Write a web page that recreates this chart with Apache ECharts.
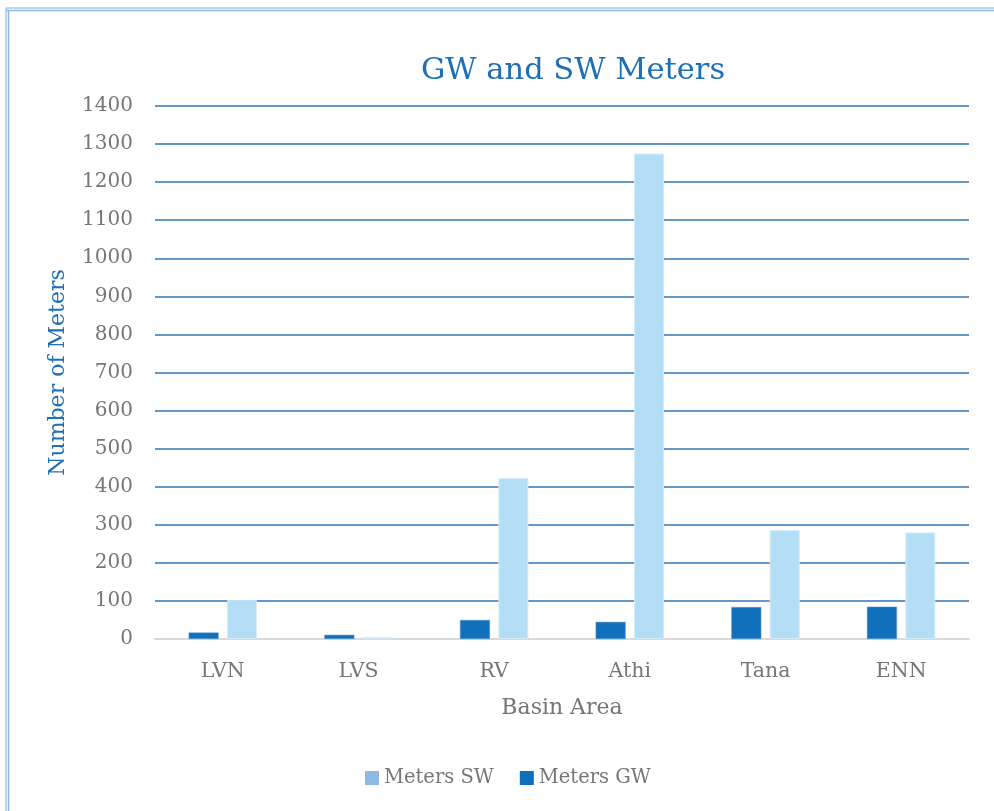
<!DOCTYPE html>
<html>
<head>
<meta charset="utf-8">
<script src="https://cdn.jsdelivr.net/npm/echarts@6/dist/echarts.min.js"></script>
<style>
  html, body { margin: 0; padding: 0; background: #ffffff; }
  #chart { width: 994px; height: 811px; }
</style>
</head>
<body>
<div id="chart"></div>
<script>
// Basin areas and meter counts
const categories = ['LVN', 'LVS', 'RV', 'Athi', 'Tana', 'ENN'];
const metersGW = [17, 11, 50, 45, 84, 85];
const metersSW = [102, 5, 423, 1275, 286, 280];
const yTicks = { min: 0, max: 1400, interval: 100 };

const serif = 'DejaVu Serif';
const grey = '#767676';
const blue = '#1F6FB5';

const chart = echarts.init(document.getElementById('chart'));
chart.setOption({
  backgroundColor: '#ffffff',
  animation: false,
  title: {
    text: 'GW and SW Meters',
    left: 568,
    top: 51,
    textAlign: 'center',
    textStyle: { fontFamily: serif, fontSize: 30.5, fontWeight: 'normal', color: blue }
  },
  legend: {
    data: [
      { name: 'Meters SW', itemStyle: { color: '#8CB9E1', borderWidth: 0 } },
      { name: 'Meters GW', itemStyle: { color: '#1170BB', borderWidth: 0 } }
    ],
    left: 360,
    top: 763,
    icon: 'rect',
    itemWidth: 14,
    itemHeight: 14,
    itemGap: 26,
    textStyle: { fontFamily: serif, fontSize: 19.5, color: grey }
  },
  grid: { left: 155, right: 25, top: 106, bottom: 172 },
  xAxis: {
    type: 'category',
    data: categories,
    name: 'Basin Area',
    nameLocation: 'middle',
    nameGap: 58,
    nameTextStyle: { fontFamily: serif, fontSize: 22, color: grey },
    axisLine: { lineStyle: { color: '#D9D9D9', width: 2 } },
    axisTick: { show: false },
    axisLabel: { fontFamily: serif, fontSize: 20.5, color: grey, margin: 22 }
  },
  yAxis: {
    type: 'value',
    min: yTicks.min,
    max: yTicks.max,
    interval: yTicks.interval,
    name: 'Number of Meters',
    nameLocation: 'middle',
    nameGap: 86,
    nameTextStyle: { fontFamily: serif, fontSize: 22, color: blue },
    axisLine: { show: false },
    axisTick: { show: false },
    axisLabel: {
      fontFamily: serif, fontSize: 20, color: grey, margin: 22,
      formatter: (v) => String(v)
    },
    splitLine: { lineStyle: { color: '#2E75B6', width: 1.5 } }
  },
  series: [
    {
      name: 'Meters GW',
      type: 'bar',
      data: metersGW,
      barWidth: 30,
      barGap: '28%',
      itemStyle: { color: '#1170BB', borderColor: '#5b9bd0', borderWidth: 0.5 }
    },
    {
      name: 'Meters SW',
      type: 'bar',
      data: metersSW,
      barWidth: 30,
      barGap: '28%',
      itemStyle: { color: '#B4DEF5', borderColor: '#D4ECF9', borderWidth: 1 }
    }
  ],
  graphic: [
    // double frame lines along the top and left edges
    { type: 'line', shape: { x1: 6, y1: 8, x2: 994, y2: 8 }, style: { stroke: '#A9C8E6', lineWidth: 1.5 } },
    { type: 'line', shape: { x1: 6, y1: 10.5, x2: 994, y2: 10.5 }, style: { stroke: '#8FB6DE', lineWidth: 1.5 } },
    { type: 'line', shape: { x1: 6, y1: 8, x2: 6, y2: 811 }, style: { stroke: '#A9C8E6', lineWidth: 1.5 } },
    { type: 'line', shape: { x1: 8.5, y1: 10.5, x2: 8.5, y2: 811 }, style: { stroke: '#8FB6DE', lineWidth: 1.5 } }
  ]
});
</script>
</body>
</html>
